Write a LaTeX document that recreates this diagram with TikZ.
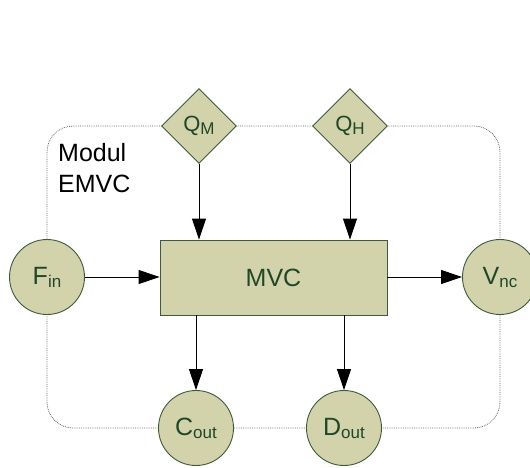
\documentclass[tikz,border=0pt]{standalone}
\usepackage{fontspec}
\setmainfont{Liberation Sans}
\usetikzlibrary{shapes.geometric,arrows.meta}
\definecolor{boxfill}{RGB}{211,211,171}
\definecolor{boxline}{RGB}{58,92,58}
\definecolor{boxtext}{RGB}{30,72,40}
\newcommand\lowsub[1]{\raisebox{-3pt}{\fontsize{17}{17}\selectfont #1}}
\tikzset{
  x=1pt, y=-1pt,
  base/.style={fill=boxfill, draw=boxline, line width=0.9pt, text=boxtext,
    inner sep=0pt, font=\fontsize{25}{30}\selectfont},
  port/.style={base, circle, minimum size=75pt},
  heat/.style={base, diamond, minimum width=75pt, minimum height=75pt,
    font=\fontsize{22}{26}\selectfont},
  unit/.style={base, rectangle, minimum width=227pt, minimum height=75pt},
  flow/.style={draw=black, line width=0.9pt, -{Triangle[length=21pt,width=14pt]}},
  frame/.style={draw=gray!80!black, densely dotted, line width=0.8pt, rounded corners=26pt}
}
\begin{document}
\begin{tikzpicture}
\useasboundingbox (0,0) rectangle (530,467);

% module boundary
\draw[frame] (47,126) rectangle (500,428);

% nodes
\node[unit] (MVC) at (273.5,277.5) {MVC};
\node[heat] (QM) at (199,126) {Q\lowsub{M}};
\node[heat] (QH) at (350,126) {Q\lowsub{H}};
\node[port] (Fin) at (47,277) {F\lowsub{in}};
\node[port] (Vnc) at (500,277) {V\lowsub{nc}};
\node[port] (Cout) at (196,428) {C\lowsub{out}};
\node[port] (Dout) at (344,428) {D\lowsub{out}};

\node[anchor=north west, inner sep=0pt, align=left,
      font=\fontsize{25}{31}\selectfont] (label) at (58,143) {Modul\\EMVC};

% flows
\draw[flow] (QM.south) -- (QM.south |- MVC.north);
\draw[flow] (QH.south) -- (QH.south |- MVC.north);
\draw[flow] (Fin.east) -- (MVC.west |- Fin.east);
\draw[flow] (MVC.east |- Vnc.west) -- (Vnc.west);
\draw[flow] (Cout.north |- MVC.south) -- (Cout.north);
\draw[flow] (Dout.north |- MVC.south) -- (Dout.north);
\end{tikzpicture}
\end{document}
